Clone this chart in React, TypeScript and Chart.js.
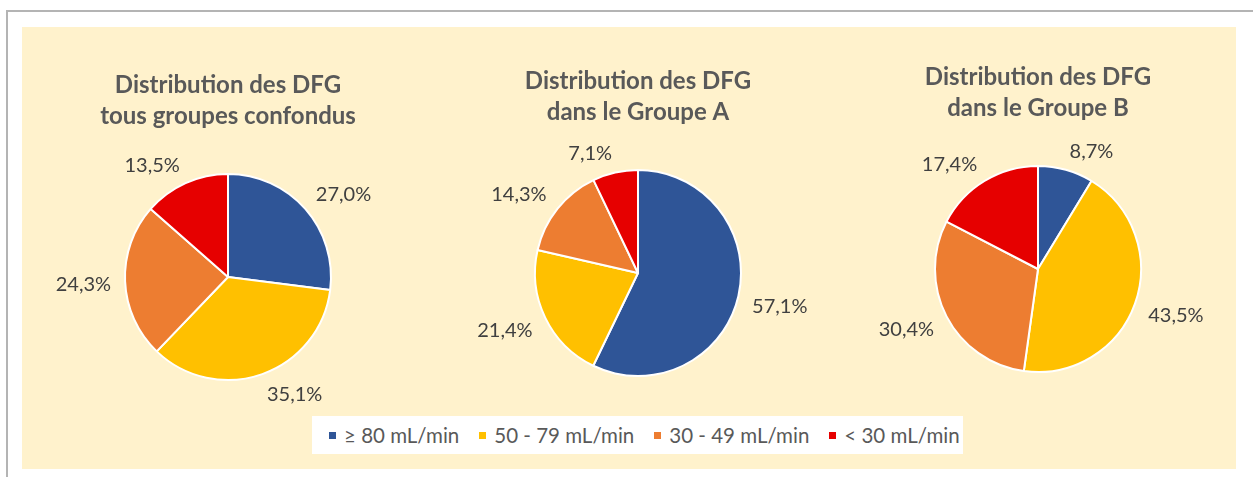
import React, { useEffect, useRef } from 'react';
import { Chart, registerables } from 'chart.js';

Chart.register(...registerables);

// ---- Data ----
const categories = ['≥ 80 mL/min', '50 - 79 mL/min', '30 - 49 mL/min', '< 30 mL/min'];
const colors = ['#2F5597', '#FFC000', '#ED7D31', '#E60000'];

const titleAll = ['Distribution des DFG', 'tous groupes confondus'];
const titleA = ['Distribution des DFG', 'dans le Groupe A'];
const titleB = ['Distribution des DFG', 'dans le Groupe B'];

const valuesAll = [27.0, 35.1, 24.3, 13.5];
const valuesA = [57.1, 21.4, 14.3, 7.1];
const valuesB = [8.7, 43.5, 30.4, 17.4];

const fmt = (v: number) => v.toFixed(1).replace('.', ',') + '%';

const LABEL_GAP = 14;
const soft = (x: number) => Math.max(-1, Math.min(1, x * 5));

// "best fit"-like outside labels: anchor on a ring just outside the pie,
// then push the text box away from the pie along each axis.
const outsideLabels = {
  id: 'outsideLabels',
  afterDatasetsDraw(chart: any) {
    const ctx = chart.ctx as CanvasRenderingContext2D;
    const meta = chart.getDatasetMeta(0);
    const data = chart.data.datasets[0].data as number[];
    ctx.save();
    ctx.font = '20px Lato';
    ctx.fillStyle = '#404040';
    ctx.textAlign = 'center';
    ctx.textBaseline = 'middle';
    meta.data.forEach((arc: any, i: number) => {
      const p = arc.getProps(['x', 'y', 'startAngle', 'endAngle', 'outerRadius'], true);
      const mid = (p.startAngle + p.endAngle) / 2;
      const text = fmt(data[i]);
      const hw = ctx.measureText(text).width / 2;
      const R = p.outerRadius + LABEL_GAP;
      const c = Math.cos(mid);
      const s = Math.sin(mid);
      const lx = p.x + R * c + hw * soft(c);
      const ly = p.y + R * s + 6 * soft(s);
      ctx.fillText(text, lx, ly + 1);
    });
    ctx.restore();
  },
};

const CW = 400;
const CH = 362;

function PieChart({ values, title, left, top }: { values: number[]; title: string[]; left: number; top: number }) {
  const ref = useRef<HTMLCanvasElement | null>(null);
  useEffect(() => {
    if (!ref.current) return;
    const chart = new Chart(ref.current, {
      type: 'pie',
      data: {
        labels: categories,
        datasets: [
          {
            data: values,
            backgroundColor: colors,
            borderColor: '#ffffff',
            borderWidth: 2,
          },
        ],
      },
      options: {
        animation: false,
        responsive: false,
        maintainAspectRatio: false,
        layout: { padding: { top: 0, bottom: 41, left: 0, right: 0 } },
        plugins: {
          legend: { display: false },
          tooltip: { enabled: false },
          title: {
            display: true,
            text: title,
            color: '#595959',
            font: { family: 'Lato', size: 24, weight: 'bold', lineHeight: 31 / 24 },
            padding: { top: 10, bottom: 41 },
          },
        },
      } as any,
      plugins: [outsideLabels],
    });
    return () => chart.destroy();
  }, [values, title]);
  return (
    <canvas
      ref={ref}
      width={CW}
      height={CH}
      style={{ position: 'absolute', left, top, width: CW, height: CH }}
    />
  );
}

export default function App() {
  return (
    <div style={{ position: 'absolute', left: 0, top: 0, width: 1253, height: 477, overflow: 'hidden', background: '#ffffff' }}>
      <div
        style={{
          position: 'absolute',
          left: 6,
          top: 10,
          width: 1253 - 6,
          height: 477 - 10,
          borderTop: '2px solid #b4b4b4',
          borderLeft: '2px solid #b4b4b4',
          boxSizing: 'border-box',
        }}
      />
      <div style={{ position: 'absolute', left: 22, top: 27, width: 1214, height: 442, background: '#FFF2CC' }} />
      <PieChart values={valuesAll} title={titleAll} left={28} top={60} />
      <PieChart values={valuesA} title={titleA} left={438} top={56} />
      <PieChart values={valuesB} title={titleB} left={838} top={52} />
      <div
        style={{
          position: 'absolute',
          left: 312,
          top: 416,
          width: 651,
          height: 38,
          background: '#ffffff',
          display: 'flex',
          alignItems: 'center',
          paddingLeft: 17,
          boxSizing: 'border-box',
          fontFamily: 'Lato',
          fontSize: 20.5,
          color: '#595959',
          whiteSpace: 'nowrap',
        }}
      >
        {categories.map((c, i) => (
          <div key={i} style={{ display: 'flex', alignItems: 'center', marginRight: 20 }}>
            <span style={{ display: 'inline-block', width: 7, height: 7, background: colors[i], marginRight: 8 }} />
            <span>{c}</span>
          </div>
        ))}
      </div>
    </div>
  );
}
